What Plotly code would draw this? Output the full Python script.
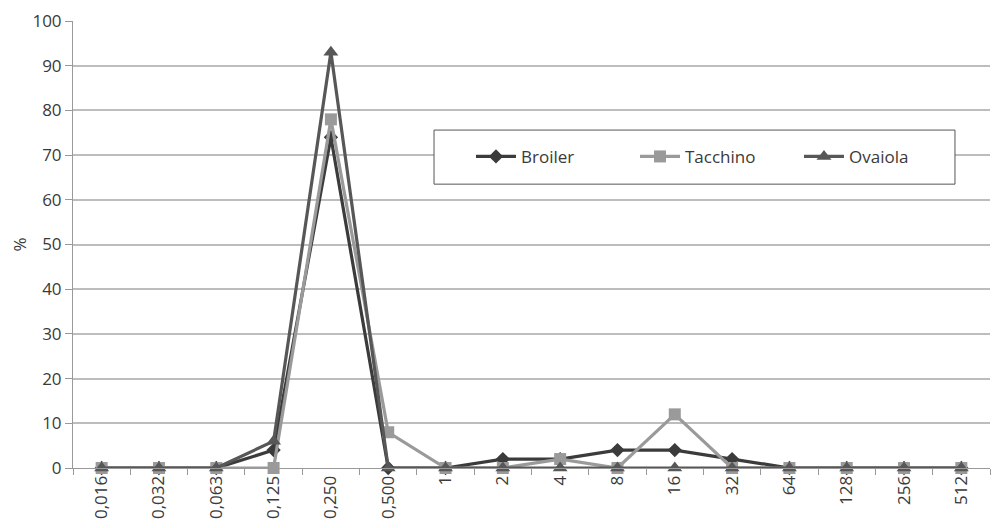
import plotly.graph_objects as go

categories = ["0,016", "0,032", "0,063", "0,125", "0,250", "0,500", "1", "2", "4",
              "8", "16", "32", "64", "128", "256", "512"]
broiler = [0, 0, 0, 4, 74, 0, 0, 2, 2, 4, 4, 2, 0, 0, 0, 0]
tacchino = [0, 0, 0, 0, 78, 8, 0, 0, 2, 0, 12, 0, 0, 0, 0, 0]
ovaiola = [0, 0, 0, 6, 93, 0, 0, 0, 0, 0, 0, 0, 0, 0, 0, 0]

series = [
    ("Broiler", broiler, "#3b3b3b", "diamond", 11),
    ("Tacchino", tacchino, "#9a9a9a", "square", 12),
    ("Ovaiola", ovaiola, "#575757", "triangle-up", 13),
]

fig = go.Figure()
for name, vals, color, symbol, size in series:
    fig.add_trace(go.Scatter(
        x=categories, y=vals, name=name, mode="lines+markers",
        line=dict(color=color, width=3.2),
        marker=dict(symbol=symbol, size=size, color=color),
        cliponaxis=False,
    ))

font = dict(family="Open Sans, Liberation Sans, sans-serif", color="#3a3a3a")

# legend frame
fig.add_shape(type="rect", xref="paper", yref="paper",
              x0=0.3937, x1=0.9618, y0=0.635, y1=0.756,
              line=dict(color="#555555", width=1), fillcolor="white",
              layer="above")

fig.update_layout(
    width=994, height=528,
    margin=dict(l=73, r=4, t=21, b=60),
    paper_bgcolor="white", plot_bgcolor="white",
    font=dict(size=17, **font),
    legend=dict(
        orientation="h", x=0.434, y=0.696, xanchor="left", yanchor="middle",
        borderwidth=0, bgcolor="rgba(0,0,0,0)", itemwidth=40,
        font=dict(size=17, **font), entrywidth=109,
    ),
    xaxis=dict(
        type="category", range=[-0.5, 15.5], tickangle=-90,
        tickson="boundaries", ticks="outside", ticklen=6, tickcolor="#999999",
        showline=True, linecolor="#999999", linewidth=1,
        showgrid=False, tickfont=dict(size=17, **font),
    ),
    yaxis=dict(
        range=[0, 100], dtick=10, ticks="outside", ticklen=7,
        tickcolor="#999999", showline=True, linecolor="#999999",
        gridcolor="#bdbdbd", gridwidth=1.5, zeroline=False,
        tickfont=dict(size=17, **font),
        title=dict(text="%", standoff=1, font=dict(size=17, **font)),
    ),
)

fig.write_html("out.html")
